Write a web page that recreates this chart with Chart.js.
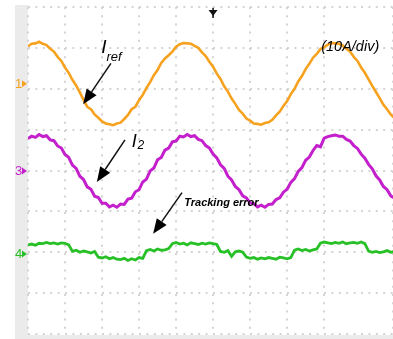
<!DOCTYPE html>
<html>
<head>
<meta charset="utf-8">
<script src="https://cdn.jsdelivr.net/npm/chart.js@4.4.1/dist/chart.umd.min.js"></script>
<style>
  html, body { margin: 0; padding: 0; background: #fff; }
  canvas { display: block; }
</style>
</head>
<body>
<canvas id="scope" width="393" height="339"></canvas>
<script>
// Scope capture: 5 ms/div horizontally, 10 A/div vertically, 0.5 ms sampling.
const TIME_MS = Array.from({ length: 100 }, (_, i) => i * 0.5);

// Channel 1: reference current (A)
const IREF = [
  9.2, 9.8, 9.9, 10.3, 9.8, 9.5, 8.6, 7.9, 6.6, 5.6,
  4.0, 2.7, 1.0, -0.4, -2.1, -3.9, -5.6, -6.2, -7.5, -8.3,
  -9.2, -9.7, -9.9, -10.1, -9.7, -9.5, -8.6, -7.6, -6.2, -5.6,
  -4.0, -2.7, -1.0, 0.4, 2.1, 3.4, 5.1, 6.2, 7.0, 7.9,
  9.1, 9.7, 10.0, 9.9, 9.8, 9.3, 8.8, 7.7, 6.8, 5.4,
  4.2, 2.5, 1.2, -0.6, -1.9, -3.6, -4.9, -6.4, -7.3, -8.5,
  -9.0, -9.7, -9.8, -10.0, -9.6, -9.4, -8.8, -7.7, -6.8, -5.4,
  -4.2, -2.5, -1.2, 0.6, 1.9, 3.6, 4.9, 6.4, 7.3, 8.5,
  9.0, 9.6, 10.0, 9.9, 9.8, 9.4, 8.6, 7.9, 6.6, 5.6,
  4.0, 2.7, 1.1, -0.5, -2.0, -3.5, -5.1, -6.2, -7.5, -8.4,
];

// Channel 3: output current I2 (A)
const I2 = [
  7.9, 8.5, 8.2, 8.9, 8.4, 8.6, 7.6, 7.4, 6.1, 5.6,
  4.0, 3.3, 1.4, 0.6, -1.3, -2.1, -3.9, -4.5, -6.2, -6.5,
  -7.9, -7.9, -8.8, -8.4, -8.9, -8.1, -8.2, -6.9, -6.7, -5.1,
  -4.6, -2.7, -2.0, 0.0, 0.7, 2.7, 3.3, 5.1, 5.6, 7.1,
  7.3, 8.5, 8.3, 8.9, 8.4, 8.6, 7.7, 7.4, 6.2, 5.6,
  4.1, 3.2, 1.5, 0.6, -1.3, -2.2, -3.8, -4.6, -6.1, -6.6,
  -7.8, -8.0, -8.8, -8.4, -8.9, -8.2, -8.1, -7.0, -6.6, -5.2,
  -4.5, -2.8, -1.9, -0.1, 0.8, 2.6, 3.4, 5.0, 6.2, 5.9,
  8.0, 8.4, 8.6, 8.8, 8.5, 8.5, 7.7, 7.3, 6.2, 5.5,
  4.1, 3.1, 1.6, 0.5, -1.2, -2.2, -3.8, -4.6, -6.1, -6.7,
];

// Channel 4: tracking error (A)
const ERR = [
  2.2, 2.4, 2.1, 2.6, 2.5, 2.8, 2.5, 2.7, 2.4, 2.7,
  2.6, 2.2, 0.6, 0.9, 0.4, 0.7, 0.5, 0.2, 0.6, -0.8,
  -1.0, -0.7, -1.2, -0.9, -1.3, -1.4, -1.1, -1.6, -1.2, -1.5,
  -0.9, -1.1, 0.8, 1.1, 0.7, 1.2, 0.9, 1.0, 1.3, 2.5,
  2.8, 2.4, 2.6, 2.2, 2.7, 2.5, 2.3, 2.6, 2.4, 2.7,
  2.5, 2.3, 0.6, 0.4, 0.8, -0.6, 0.5, 0.7, 0.4, -0.8,
  -1.1, -0.9, -1.3, -1.0, -1.2, -0.9, -1.1, -1.3, -0.8, -1.0,
  -1.2, -0.9, 0.9, 1.2, 0.8, 1.1, 0.7, 1.0, 1.2, 2.6,
  2.9, 2.7, 2.5, 2.8, 2.6, 2.9, 2.5, 2.7, 2.8, 2.6,
  2.9, 2.5, 0.7, 0.4, 0.6, 0.3, 0.5, 0.8, 0.4, 0.6,
];

const AMPS_PER_DIV = 10;
// ground markers of each channel, in divisions from the bottom of the screen
const OFFSET_CH1 = 6.12;
const OFFSET_CH3 = 3.99;
const OFFSET_CH4 = 1.96;

const COLOR_CH1 = '#f7a21f';
const COLOR_CH3 = '#c41fcc';
const COLOR_CH4 = '#27c127';
const COLOR_DOTS = '#d4d4d4';
const FONT = '"Liberation Sans", Arial, sans-serif';

function toPoints(values, offset) {
  return values.map((v, i) => ({ x: TIME_MS[i], y: offset + v / AMPS_PER_DIV }));
}

function drawArrow(ctx, x1, y1, x2, y2) {
  const ang = Math.atan2(y2 - y1, x2 - x1);
  const len = 15, half = 6;
  const bx = x2 - len * Math.cos(ang);
  const by = y2 - len * Math.sin(ang);
  ctx.beginPath();
  ctx.moveTo(x1, y1);
  ctx.lineTo(bx, by);
  ctx.stroke();
  ctx.beginPath();
  ctx.moveTo(x2, y2);
  ctx.lineTo(bx + half * Math.sin(ang), by - half * Math.cos(ang));
  ctx.lineTo(bx - half * Math.sin(ang), by + half * Math.cos(ang));
  ctx.closePath();
  ctx.fill();
}

// grey frame around the scope screen
const framePlugin = {
  id: 'scopeFrame',
  beforeDraw(chart) {
    const { ctx, chartArea } = chart;
    ctx.save();
    ctx.fillStyle = '#ebebeb';
    ctx.fillRect(15, 5, chartArea.left - 15, chart.height - 5);
    ctx.fillRect(15, chartArea.bottom + 1, chart.width - 15, chart.height - chartArea.bottom);
    ctx.restore();
  },
};

// channel markers, trigger marker, labels and arrows
const annotPlugin = {
  id: 'scopeAnnotations',
  afterDraw(chart) {
    const { ctx, chartArea } = chart;
    const xs = chart.scales.x, ys = chart.scales.y;
    const px = (t) => xs.getPixelForValue(t);
    const py = (d) => ys.getPixelForValue(d);
    ctx.save();

    // channel markers in the left strip
    [['1', OFFSET_CH1, COLOR_CH1], ['3', OFFSET_CH3, COLOR_CH3], ['4', OFFSET_CH4, COLOR_CH4]].forEach(([n, off, col]) => {
      const y = py(off);
      ctx.fillStyle = col;
      ctx.font = `13px ${FONT}`;
      ctx.textAlign = 'left';
      ctx.textBaseline = 'middle';
      ctx.fillText(n, 15, y + 0.5);
      ctx.beginPath();
      ctx.moveTo(chartArea.left - 1, y);
      ctx.lineTo(chartArea.left - 6, y - 3.5);
      ctx.lineTo(chartArea.left - 6, y + 3.5);
      ctx.closePath();
      ctx.fill();
    });

    // trigger position marker at the top
    const tx = px(25);
    ctx.fillStyle = '#111';
    ctx.strokeStyle = '#111';
    ctx.lineWidth = 1.5;
    ctx.beginPath();
    ctx.moveTo(tx, chartArea.top + 1);
    ctx.lineTo(tx, chartArea.top + 11);
    ctx.stroke();
    ctx.beginPath();
    ctx.moveTo(tx - 4.5, chartArea.top + 3);
    ctx.lineTo(tx + 4.5, chartArea.top + 3);
    ctx.lineTo(tx, chartArea.top + 9);
    ctx.closePath();
    ctx.fill();

    // text labels
    ctx.fillStyle = '#000';
    ctx.textAlign = 'left';
    ctx.textBaseline = 'alphabetic';
    ctx.font = `italic 19px ${FONT}`;
    ctx.fillText('I', px(9.9), py(6.88));
    ctx.font = `italic 13px ${FONT}`;
    ctx.fillText('ref', px(10.6), py(6.67));

    ctx.font = `italic 18px ${FONT}`;
    ctx.fillText('I', px(14.0), py(4.57));
    ctx.font = `italic 12px ${FONT}`;
    ctx.fillText('2', px(14.8), py(4.52));

    ctx.font = `italic bold 11px ${FONT}`;
    ctx.textBaseline = 'middle';
    ctx.fillText('Tracking error', px(21.1), py(3.2));

    ctx.font = `italic 14.5px ${FONT}`;
    ctx.fillText('(10A/div)', px(39.6), py(7.03));

    // arrows
    ctx.lineWidth = 1.5;
    drawArrow(ctx, px(11.2), py(6.62), px(7.45), py(5.62));
    drawArrow(ctx, px(13.1), py(4.75), px(9.3), py(3.72));
    drawArrow(ctx, px(20.8), py(3.46), px(16.9), py(2.45));

    ctx.restore();
  },
};

new Chart(document.getElementById('scope').getContext('2d'), {
  type: 'line',
  data: {
    datasets: [
      { label: 'Iref', data: toPoints(IREF, OFFSET_CH1), borderColor: COLOR_CH1, borderWidth: 2.6 },
      { label: 'I2', data: toPoints(I2, OFFSET_CH3), borderColor: COLOR_CH3, borderWidth: 3 },
      { label: 'Tracking error', data: toPoints(ERR, OFFSET_CH4), borderColor: COLOR_CH4, borderWidth: 2.8 },
    ],
  },
  options: {
    responsive: false,
    animation: false,
    devicePixelRatio: 1,
    layout: { padding: { left: 28, top: 7, right: 0, bottom: 5 } },
    elements: {
      line: { tension: 0 },
      point: { radius: 0 },
    },
    plugins: { legend: { display: false }, tooltip: { enabled: false } },
    scales: {
      x: {
        type: 'linear',
        min: 0,
        max: 49.3,
        ticks: { display: false, stepSize: 5 },
        grid: { color: COLOR_DOTS, lineWidth: 2, drawTicks: false },
        border: { display: false, dash: [2, 6.2] },
      },
      y: {
        type: 'linear',
        min: 0,
        max: 8,
        ticks: { display: false, stepSize: 1 },
        grid: { color: COLOR_DOTS, lineWidth: 2, drawTicks: false },
        border: { display: false, dash: [2, 5.4] },
      },
    },
  },
  plugins: [framePlugin, annotPlugin],
});
</script>
</body>
</html>
